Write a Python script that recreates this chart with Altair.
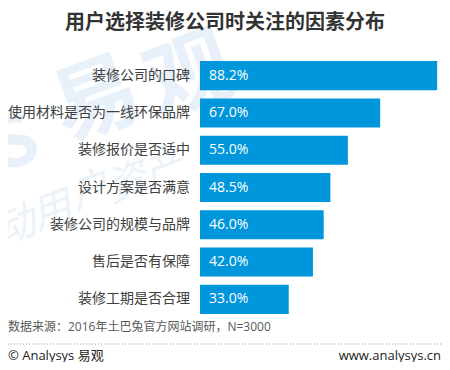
import altair as alt
import pandas as pd

title = "用户选择装修公司时关注的因素分布"
cats = ["装修公司的口碑", "使用材料是否为一线环保品牌", "装修报价是否适中", "设计方案是否满意",
        "装修公司的规模与品牌", "售后是否有保障", "装修工期是否合理"]
vals = [88.2, 67.0, 55.0, 48.5, 46.0, 42.0, 33.0]
source = "数据来源：2016年土巴兔官方网站调研，N=3000"
footer_left = "© Analysys 易观"
footer_right = "www.analysys.cn"
watermark1 = ["S", "易", "观"]
watermark2 = ["动", "用", "户", "资", "产"]

FONT = "'Open Sans', 'Noto Sans CJK SC', sans-serif"
CJK = "'Noto Sans CJK SC', sans-serif"

df = pd.DataFrame({"cat": cats, "val": vals, "lbl": [f"{v:.1f}%" for v in vals]})

yenc = alt.Y("cat:N", sort=cats, axis=None,
             scale=alt.Scale(range=[49, 310], paddingInner=0.22, paddingOuter=0.11))
xscale = alt.Scale(domain=[0, 90], range=[192, 434])

base = alt.Chart(df)

# faint watermark, one glyph per text mark
wm_layers = []
wm1_pos = [(8, 137, 70), (89, 94, 86), (182, 70, 86)]
for ch, (px, py, fs) in zip(watermark1, wm1_pos):
    wm_layers.append(alt.Chart(pd.DataFrame({"t": [ch]})).mark_text(
        font=CJK, fontSize=fs, fontWeight="bold", color="#e8f1fa", angle=340, align="center", baseline="middle"
    ).encode(x=alt.value(px), y=alt.value(py), text="t:N"))
wm2_pos = [(8, 219), (44, 204), (82, 184), (119, 176), (156, 163)]
for ch, (px, py) in zip(watermark2, wm2_pos):
    wm_layers.append(alt.Chart(pd.DataFrame({"t": [ch]})).mark_text(
        font=CJK, fontSize=40, fontStyle="italic", color="#eaf2fa", angle=340, align="center", baseline="middle"
    ).encode(x=alt.value(px), y=alt.value(py), text="t:N"))

bars = base.mark_bar(color="#0096db").encode(
    y=yenc,
    x=alt.X("val:Q", scale=xscale, axis=None),
)
cat_lbl = base.mark_text(align="right", baseline="middle", dx=-10, fontSize=14, font=CJK, color="#404040").encode(
    y=yenc, x=alt.datum(0), text="cat:N"
)
val_lbl = base.mark_text(align="left", baseline="middle", dx=9, fontSize=14, font=FONT, color="white").encode(
    y=yenc, x=alt.datum(0), text="lbl:N"
)

ttl = alt.Chart(pd.DataFrame({"t": [title]})).mark_text(
    font=CJK, fontSize=20, fontWeight="bold", color="#333333", align="center", baseline="middle"
).encode(x=alt.value(217), y=alt.value(15), text="t:N")

src = alt.Chart(pd.DataFrame({"t": [source]})).mark_text(
    font=FONT, fontSize=12, color="#595959", align="left", baseline="middle"
).encode(x=alt.value(0), y=alt.value(319), text="t:N")

dots = alt.Chart(pd.DataFrame({"a": [0]})).mark_rule(
    color="#999999", strokeDash=[1, 2], strokeWidth=1
).encode(x=alt.value(0), x2=alt.value(433), y=alt.value(336))

fl = alt.Chart(pd.DataFrame({"t": [footer_left]})).mark_text(
    font=FONT, fontSize=13, color="#222222", align="left", baseline="middle"
).encode(x=alt.value(0), y=alt.value(348), text="t:N")
fr = alt.Chart(pd.DataFrame({"t": [footer_right]})).mark_text(
    font=FONT, fontSize=13, color="#222222", align="right", baseline="middle"
).encode(x=alt.value(433), y=alt.value(348), text="t:N")

chart = alt.layer(*wm_layers, bars, cat_lbl, val_lbl, ttl, src, dots, fl, fr).properties(
    width=434, height=354, autosize=alt.AutoSizeParams(type="none"), padding=0, background="white"
).configure_view(stroke=None)

chart.save("out.html", embed_options={"renderer": "svg", "actions": False})
